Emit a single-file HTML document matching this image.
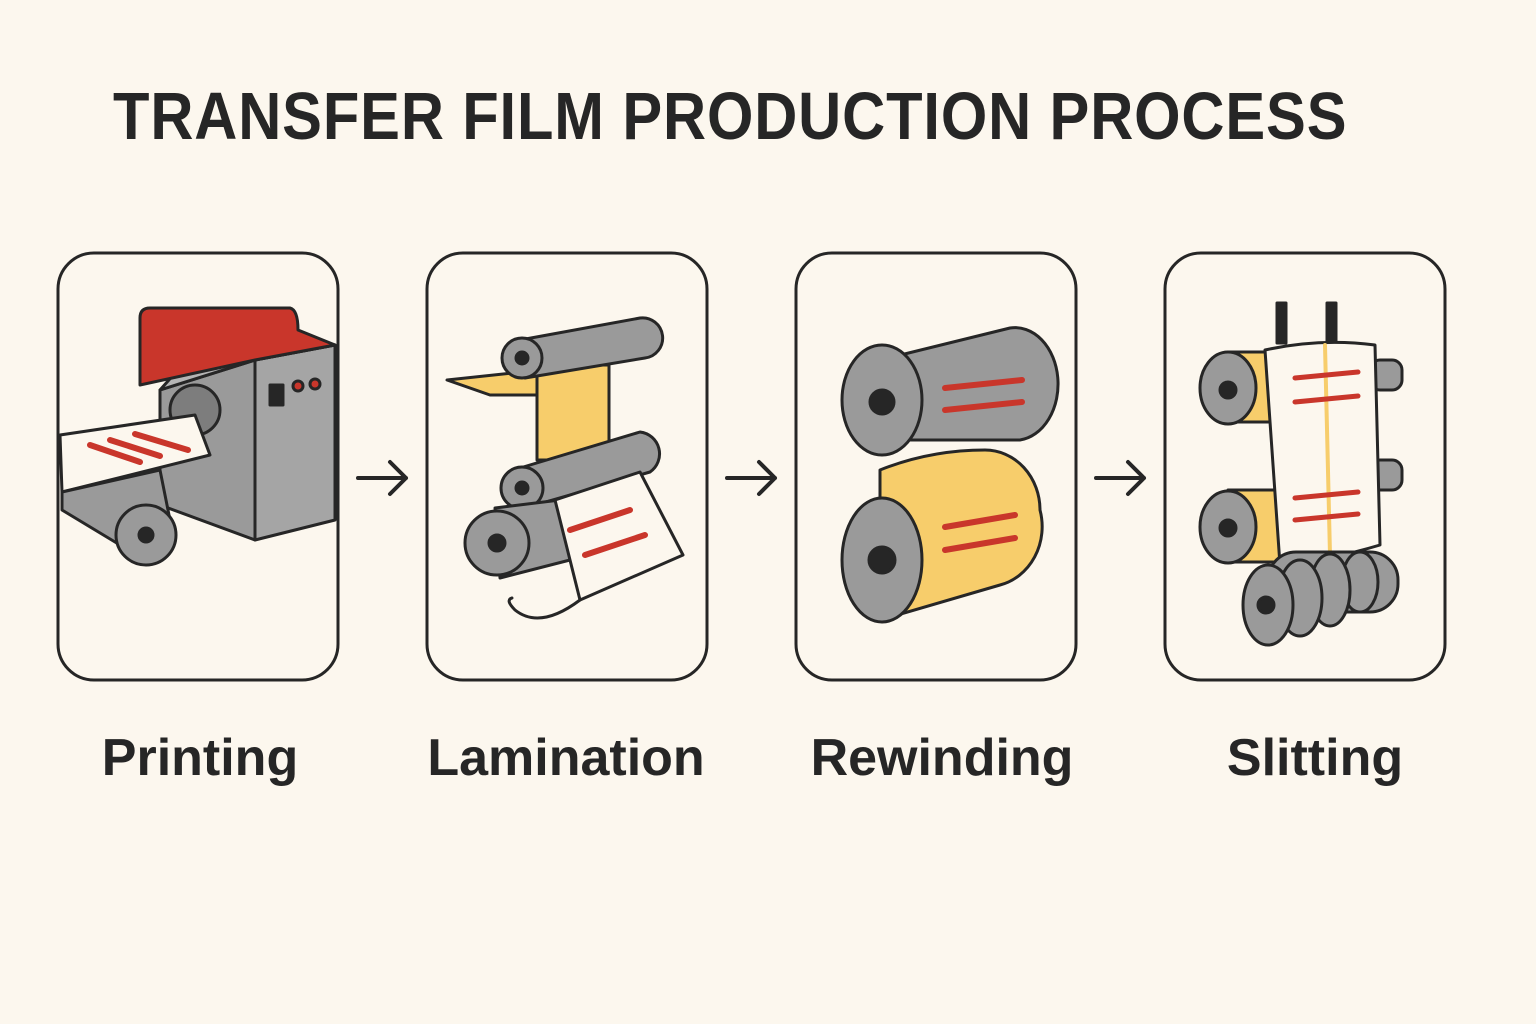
<!DOCTYPE html>
<html><head><meta charset="utf-8"><style>
html,body{margin:0;padding:0;background:#fcf7ee;}
body{width:1536px;height:1024px;position:relative;overflow:hidden;font-family:"Liberation Sans",sans-serif;}
.t{position:absolute;left:113px;top:78px;font-size:67px;font-weight:bold;color:#262626;letter-spacing:1px;white-space:nowrap;transform:scaleX(0.89);transform-origin:left top;}
.l{position:absolute;top:728px;font-size:52px;font-weight:bold;color:#262626;width:400px;text-align:center;}
</style></head><body>
<div class="t">TRANSFER FILM PRODUCTION PROCESS</div>
<svg width="1536" height="1024" style="position:absolute;left:0;top:0" stroke="#262626" stroke-width="3" stroke-linejoin="round" stroke-linecap="round">
<g fill="none">
<rect x="58" y="253" width="280" height="427" rx="36"/>
<rect x="427" y="253" width="280" height="427" rx="36"/>
<rect x="796" y="253" width="280" height="427" rx="36"/>
<rect x="1165" y="253" width="280" height="427" rx="36"/>
<g stroke-width="4"><path d="M358 478H406M390 462L406 478L390 494"/><path d="M727 478H775M759 462L775 478L759 494"/><path d="M1096 478H1144M1128 462L1144 478L1128 494"/></g>
</g>
<!-- Printing -->
<polygon points="160,390 255,360 255,540 160,505" fill="#9a9a9a"/>
<polygon points="255,360 335,345 335,520 255,540" fill="#a5a5a5"/>
<polygon points="160,390 255,360 335,345 298,335 200,345" fill="#b5b5b5"/>
<path d="M140 318 Q140 308 150 308 L290 308 Q298 310 298 330 L335 345 L255 360 L140 385 Z" fill="#c9362b"/>
<rect x="270" y="385" width="13" height="20" fill="#262626"/>
<circle cx="298" cy="386" r="5" fill="#c9362b"/><circle cx="315" cy="384" r="5" fill="#c9362b"/>
<ellipse cx="195" cy="410" rx="25" ry="25" fill="#7d7d7d"/>
<polygon points="60,435 195,415 210,455 62,492" fill="#fcf7ee"/>
<g stroke="#c9362b" stroke-width="6"><path d="M90 445L140 462M110 440L160 456M135 434L188 450"/></g>
<polygon points="62,492 160,470 170,520 120,545 62,510" fill="#9a9a9a"/>
<circle cx="146" cy="535" r="30" fill="#9a9a9a"/><circle cx="146" cy="535" r="7" fill="#262626"/>
<!-- Lamination -->
<polygon points="447,380 540,370 540,395 490,395" fill="#f7cd6b"/>
<rect x="537" y="365" width="72" height="95" fill="#f7cd6b"/>
<path d="M520 340 L640 318 A20 20 0 0 1 645 358 L525 378 Z" fill="#9a9a9a"/>
<circle cx="522" cy="358" r="20" fill="#9a9a9a"/><circle cx="522" cy="358" r="6" fill="#262626"/>
<path d="M520 468 L640 432 A22 22 0 0 1 650 472 L525 508 Z" fill="#9a9a9a"/>
<circle cx="522" cy="488" r="21" fill="#9a9a9a"/><circle cx="522" cy="488" r="6" fill="#262626"/>
<path d="M495 508 L560 500 L570 560 L500 578 Z" fill="#9a9a9a"/>
<circle cx="497" cy="543" r="32" fill="#9a9a9a"/><circle cx="497" cy="543" r="8" fill="#262626"/>
<polygon points="555,500 640,472 683,555 580,600" fill="#fcf7ee"/>
<g stroke="#c9362b" stroke-width="6"><path d="M570 530L630 510M585 555L645 535"/></g>
<path d="M580 600 Q540 630 515 610 Q505 600 512 598" fill="none"/>
<!-- Rewinding -->
<path d="M880 360 L1010 328 A42 55 0 0 1 1020 440 L880 440 Z" fill="#9a9a9a"/>
<ellipse cx="882" cy="400" rx="40" ry="55" fill="#9a9a9a"/><circle cx="882" cy="402" r="12" fill="#262626"/>
<path d="M880 470 Q930 450 985 450 A55 60 0 0 1 1040 510 A55 60 0 0 1 1000 585 L880 620 Z" fill="#f7cd6b"/>
<ellipse cx="882" cy="560" rx="40" ry="62" fill="#9a9a9a"/><circle cx="882" cy="560" r="13" fill="#262626"/>
<g stroke="#c9362b" stroke-width="6"><path d="M945 388L1022 380M945 410L1022 402M945 527L1015 515M945 550L1015 538"/></g>
<!-- Slitting -->
<rect x="1277" y="303" width="9" height="40" fill="#262626"/><rect x="1327" y="303" width="9" height="40" fill="#262626"/>
<rect x="1370" y="360" width="32" height="30" rx="10" fill="#9a9a9a"/>
<rect x="1370" y="460" width="32" height="30" rx="10" fill="#9a9a9a"/>
<rect x="1228" y="352" width="55" height="70" fill="#f7cd6b"/>
<ellipse cx="1228" cy="388" rx="28" ry="36" fill="#9a9a9a"/><circle cx="1228" cy="390" r="8" fill="#262626"/>
<rect x="1228" y="490" width="55" height="72" fill="#f7cd6b"/>
<ellipse cx="1228" cy="527" rx="28" ry="36" fill="#9a9a9a"/><circle cx="1228" cy="528" r="8" fill="#262626"/>
<path d="M1265 350 Q1320 338 1375 345 L1380 545 Q1330 560 1280 565 Z" fill="#fcf7ee"/>
<path d="M1325 345 L1330 555" stroke="#f7cd6b" stroke-width="4"/>
<g stroke="#c9362b" stroke-width="5"><path d="M1295 378L1358 372M1295 402L1358 396M1295 498L1358 492M1295 520L1358 514"/></g>
<rect x="1268" y="552" width="130" height="60" rx="28" fill="#9a9a9a"/>
<ellipse cx="1360" cy="582" rx="18" ry="30" fill="#9a9a9a"/>
<ellipse cx="1330" cy="590" rx="20" ry="36" fill="#9a9a9a"/>
<ellipse cx="1300" cy="598" rx="22" ry="38" fill="#9a9a9a"/>
<ellipse cx="1268" cy="605" rx="25" ry="40" fill="#9a9a9a"/><circle cx="1266" cy="605" r="8" fill="#262626"/>
</svg>
<div class="l" style="left:0px">Printing</div>
<div class="l" style="left:366px">Lamination</div>
<div class="l" style="left:742px">Rewinding</div>
<div class="l" style="left:1115px">Slitting</div>
</body></html>
